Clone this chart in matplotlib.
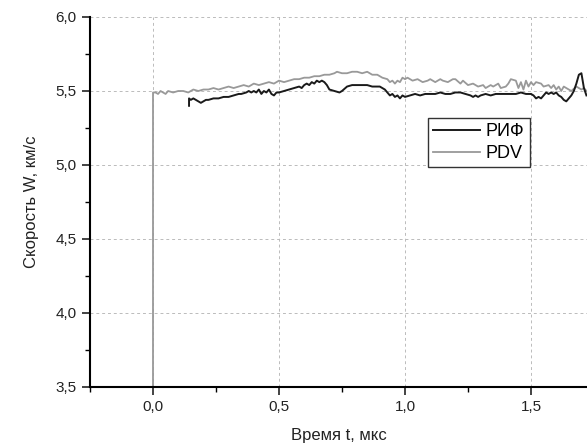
import matplotlib
matplotlib.use('Agg')
import matplotlib.pyplot as plt
from matplotlib.ticker import MultipleLocator, FuncFormatter

# PDV trace (gray)
pdv_t = [0.0, 0.0, 0.01, 0.02, 0.03, 0.04, 0.05, 0.06, 0.08, 0.10, 0.12, 0.14, 0.16,
         0.18, 0.20, 0.22, 0.24, 0.26, 0.28, 0.30, 0.32, 0.34, 0.36, 0.38, 0.40,
         0.42, 0.44, 0.46, 0.48, 0.50, 0.52, 0.54, 0.56, 0.58, 0.60, 0.62, 0.64,
         0.66, 0.68, 0.70, 0.72, 0.73, 0.75, 0.77, 0.79, 0.81, 0.83, 0.85, 0.87,
         0.89, 0.91, 0.93, 0.94, 0.95, 0.96, 0.97, 0.98, 0.99, 1.00, 1.01, 1.03,
         1.05, 1.07, 1.09, 1.10, 1.12, 1.14, 1.15, 1.17, 1.19, 1.20, 1.22, 1.23,
         1.25, 1.27, 1.29, 1.31, 1.32, 1.34, 1.35, 1.37, 1.38, 1.40, 1.41, 1.42,
         1.44, 1.45, 1.46, 1.47, 1.48, 1.49, 1.50, 1.51, 1.52, 1.54, 1.55, 1.57,
         1.58, 1.59, 1.60, 1.61, 1.62, 1.63, 1.64, 1.66, 1.68, 1.70, 1.71, 1.72]
pdv_v = [3.40, 5.49, 5.49, 5.48, 5.50, 5.49, 5.48, 5.50, 5.49, 5.50, 5.50, 5.49, 5.51,
         5.50, 5.51, 5.51, 5.52, 5.51, 5.52, 5.53, 5.52, 5.53, 5.54, 5.53, 5.55,
         5.54, 5.55, 5.56, 5.55, 5.57, 5.56, 5.57, 5.58, 5.58, 5.59, 5.59, 5.60,
         5.60, 5.61, 5.61, 5.62, 5.63, 5.62, 5.62, 5.63, 5.63, 5.62, 5.63, 5.61,
         5.61, 5.59, 5.58, 5.56, 5.57, 5.55, 5.57, 5.56, 5.59, 5.58, 5.59, 5.57,
         5.58, 5.56, 5.57, 5.58, 5.56, 5.58, 5.57, 5.56, 5.58, 5.58, 5.55, 5.57,
         5.54, 5.55, 5.53, 5.54, 5.52, 5.54, 5.53, 5.55, 5.52, 5.53, 5.55, 5.58,
         5.57, 5.52, 5.56, 5.51, 5.57, 5.53, 5.56, 5.54, 5.56, 5.55, 5.53, 5.54,
         5.52, 5.54, 5.51, 5.53, 5.50, 5.53, 5.52, 5.50, 5.53, 5.51, 5.52, 5.50]

# RIF trace (black)
rif_t = [0.143, 0.143, 0.15, 0.16, 0.17, 0.18, 0.19, 0.20, 0.21, 0.22, 0.24, 0.26,
         0.28, 0.30, 0.32, 0.34, 0.35, 0.37, 0.38, 0.39, 0.40, 0.41, 0.42, 0.43,
         0.44, 0.45, 0.46, 0.47, 0.48, 0.49, 0.50, 0.52, 0.54, 0.56, 0.58, 0.59,
         0.60, 0.61, 0.62, 0.63, 0.64, 0.65, 0.66, 0.67, 0.68, 0.69, 0.70, 0.72,
         0.74, 0.75, 0.77, 0.79, 0.81, 0.83, 0.85, 0.87, 0.88, 0.90, 0.91, 0.92,
         0.93, 0.94, 0.95, 0.96, 0.97, 0.98, 0.99, 1.00, 1.02, 1.04, 1.06, 1.08,
         1.10, 1.12, 1.14, 1.16, 1.18, 1.20, 1.22, 1.24, 1.26, 1.27, 1.28, 1.29,
         1.30, 1.32, 1.34, 1.36, 1.38, 1.40, 1.42, 1.44, 1.46, 1.48, 1.50, 1.51,
         1.52, 1.53, 1.54, 1.55, 1.56, 1.57, 1.58, 1.59, 1.60, 1.61, 1.62, 1.63,
         1.64, 1.65, 1.66, 1.67, 1.68, 1.69, 1.70, 1.71, 1.72]
rif_v = [5.40, 5.45, 5.44, 5.45, 5.44, 5.43, 5.42, 5.43, 5.44, 5.44, 5.45, 5.45,
         5.46, 5.46, 5.47, 5.48, 5.48, 5.49, 5.50, 5.49, 5.50, 5.49, 5.51, 5.48,
         5.50, 5.49, 5.51, 5.48, 5.47, 5.49, 5.49, 5.50, 5.51, 5.52, 5.53, 5.52,
         5.54, 5.55, 5.54, 5.56, 5.55, 5.57, 5.56, 5.57, 5.56, 5.54, 5.51, 5.50,
         5.49, 5.50, 5.53, 5.54, 5.54, 5.54, 5.54, 5.53, 5.53, 5.53, 5.52, 5.51,
         5.49, 5.47, 5.48, 5.46, 5.47, 5.45, 5.47, 5.46, 5.47, 5.48, 5.47, 5.48,
         5.48, 5.48, 5.49, 5.48, 5.48, 5.49, 5.49, 5.48, 5.47, 5.46, 5.47, 5.46,
         5.47, 5.48, 5.47, 5.48, 5.48, 5.48, 5.48, 5.48, 5.49, 5.48, 5.48, 5.47,
         5.45, 5.46, 5.45, 5.47, 5.49, 5.48, 5.49, 5.48, 5.49, 5.47, 5.46, 5.44,
         5.43, 5.45, 5.47, 5.50, 5.55, 5.61, 5.62, 5.52, 5.47]

plt.rcParams['font.family'] = ['Liberation Sans', 'DejaVu Sans']

fig = plt.figure(figsize=(5.87, 4.47), dpi=100)
ax = fig.add_axes([90 / 587, 60 / 447, 1 - 90 / 587, (387 - 17) / 447])

ax.plot(rif_t, rif_v, color='#1a1a1a', lw=1.4, label='РИФ', zorder=3)
ax.plot(pdv_t, pdv_v, color='#999999', lw=1.3, label='PDV', zorder=2)

ax.set_xlim(-0.25, (587 - 153) / 252)
ax.set_ylim(3.5, 6.0)
ax.xaxis.set_major_locator(MultipleLocator(0.5))
ax.xaxis.set_minor_locator(MultipleLocator(0.25))
ax.yaxis.set_major_locator(MultipleLocator(0.5))
ax.yaxis.set_minor_locator(MultipleLocator(0.25))
comma = FuncFormatter(lambda v, p: f'{v:.1f}'.replace('.', ','))
ax.xaxis.set_major_formatter(comma)
ax.yaxis.set_major_formatter(comma)

ax.grid(True, which='major', color='#bbbbbb', ls=(0, (3, 3)), lw=0.7)
ax.spines['top'].set_visible(False)
ax.spines['right'].set_visible(False)
ax.spines['left'].set_linewidth(1.5)
ax.spines['bottom'].set_linewidth(1.5)
ax.tick_params(which='major', direction='out', length=6, width=1.2, labelsize=11, colors='#222222')
ax.tick_params(which='minor', direction='out', length=3.5, width=1.0)

ax.set_xlabel('Время t, мкс', fontsize=12, color='#222222', labelpad=10)
ax.set_ylabel('Скорость W, км/с', fontsize=12, color='#222222', labelpad=12)

leg = ax.legend(loc='upper left', bbox_to_anchor=(428 / 587, 1 - 118 / 447),
                bbox_transform=fig.transFigure, fontsize=13, fancybox=False,
                framealpha=1, edgecolor='#333333', handlelength=2.6,
                borderpad=0.3, labelspacing=0.25, handletextpad=0.3, borderaxespad=0)
leg.get_frame().set_linewidth(1.0)

fig.savefig('out.png', dpi=100)
